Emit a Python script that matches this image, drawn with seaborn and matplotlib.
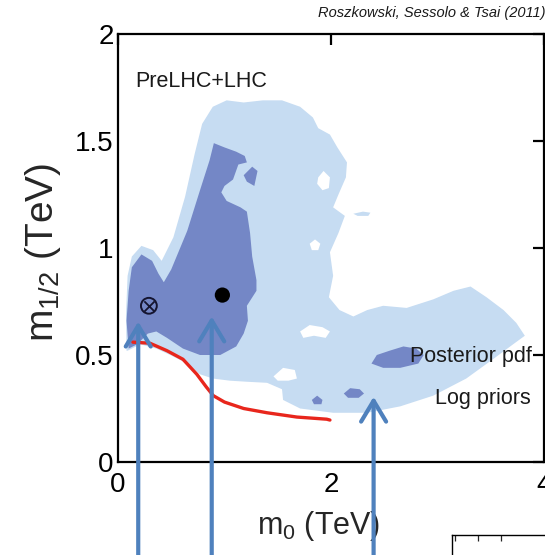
import matplotlib
matplotlib.use("Agg")
import matplotlib.pyplot as plt
import seaborn as sns
import pandas as pd

# ---- posterior credible regions in the (m0, m1/2) plane, TeV ----
# 95% region outline
region95_m0 = [0.08, 0.075, 0.09, 0.13, 0.22, 0.33, 0.41, 0.52, 0.63, 0.72, 0.79, 0.89,
               1.02, 1.18, 1.36, 1.54, 1.71, 1.83, 1.88, 1.99, 2.06, 2.15, 2.14, 2.07,
               2.02, 2.13, 2.07, 1.99, 2.02, 1.98, 2.08, 2.21, 2.34, 2.49, 2.71, 2.96,
               3.15, 3.31, 3.46, 3.62, 3.74, 3.82, 3.71, 3.52, 3.27, 2.96, 2.65, 2.34,
               2.02, 1.71, 1.55, 1.54, 1.40, 1.21, 1.05, 0.89, 0.77, 0.65, 0.49, 0.36,
               0.21, 0.09]
region95_m12 = [0.52, 0.69, 0.87, 0.96, 1.01, 0.99, 0.94, 1.05, 1.24, 1.44, 1.58, 1.66,
                1.69, 1.68, 1.69, 1.69, 1.66, 1.61, 1.56, 1.53, 1.47, 1.40, 1.33, 1.25,
                1.19, 1.15, 1.07, 0.98, 0.87, 0.77, 0.71, 0.68, 0.71, 0.73, 0.72, 0.76,
                0.80, 0.82, 0.77, 0.71, 0.65, 0.59, 0.55, 0.48, 0.39, 0.31, 0.26, 0.23,
                0.23, 0.25, 0.29, 0.34, 0.37, 0.375, 0.38, 0.39, 0.41, 0.46, 0.50, 0.53,
                0.55, 0.52]

# gaps inside the 95% region
gap1_m0 = [1.88, 1.93, 1.99, 1.98, 1.92, 1.87]
gap1_m12 = [1.33, 1.36, 1.33, 1.28, 1.27, 1.30]
gap2_m0 = [1.80, 1.85, 1.90, 1.88, 1.82]
gap2_m12 = [1.02, 1.04, 1.02, 0.99, 0.99]
gap3_m0 = [1.71, 1.80, 1.92, 1.99, 1.95, 1.84, 1.74]
gap3_m12 = [0.61, 0.64, 0.63, 0.61, 0.58, 0.59, 0.58]
gap4_m0 = [1.46, 1.55, 1.66, 1.68, 1.60, 1.50]
gap4_m12 = [0.40, 0.44, 0.43, 0.39, 0.38, 0.38]

# stray 95% patch
patch_m0 = [2.21, 2.30, 2.37, 2.35, 2.25]
patch_m12 = [1.16, 1.17, 1.165, 1.15, 1.15]

# 68% region outline (main)
region68_m0 = [0.10, 0.13, 0.22, 0.32, 0.38, 0.43, 0.50, 0.65, 0.77, 0.86, 0.90, 1.00,
               1.11, 1.19, 1.21, 1.13, 1.08, 1.00, 0.97, 1.02, 1.15, 1.21, 1.24, 1.26,
               1.30, 1.30, 1.21, 1.22, 1.18, 1.11, 0.96, 0.77, 0.61, 0.46, 0.36, 0.28,
               0.18, 0.10, 0.08]
region68_m12 = [0.80, 0.91, 0.97, 0.94, 0.88, 0.84, 0.90, 1.08, 1.27, 1.41, 1.49, 1.47,
                1.45, 1.43, 1.40, 1.39, 1.32, 1.29, 1.26, 1.22, 1.19, 1.17, 1.07, 0.96,
                0.85, 0.80, 0.73, 0.66, 0.60, 0.54, 0.50, 0.50, 0.53, 0.58, 0.61, 0.60,
                0.55, 0.53, 0.66]
# 68% islands
isle1_m0 = [1.18, 1.26, 1.31, 1.28, 1.21]
isle1_m12 = [1.34, 1.38, 1.36, 1.29, 1.31]
isle2_m0 = [2.38, 2.43, 2.55, 2.68, 2.80, 2.87, 2.82, 2.65, 2.49]
isle2_m12 = [0.46, 0.50, 0.52, 0.54, 0.53, 0.50, 0.46, 0.44, 0.44]
isle3_m0 = [2.12, 2.18, 2.27, 2.31, 2.26, 2.16]
isle3_m12 = [0.32, 0.345, 0.34, 0.32, 0.30, 0.30]
isle4_m0 = [1.82, 1.87, 1.92, 1.91, 1.84]
isle4_m12 = [0.29, 0.31, 0.29, 0.27, 0.27]

# excluded-region boundary (red curve)
limit_m0 = [0.14, 0.30, 0.46, 0.61, 0.74, 0.83, 0.895, 1.00, 1.18, 1.40, 1.68, 1.96, 1.99]
limit_m12 = [0.56, 0.555, 0.52, 0.48, 0.41, 0.35, 0.31, 0.28, 0.25, 0.23, 0.21, 0.20, 0.196]

# best fit and posterior mean
best_fit = (0.29, 0.73)
post_mean = (0.98, 0.78)

# arrow tips
arrow_m0 = [0.19, 0.88, 2.40]
arrow_m12 = [0.656, 0.68, 0.305]

x_ticks = [0, 2, 4]
y_ticks = [0, 0.5, 1, 1.5, 2]
y_ticklabels = ["0", "0.5", "1", "1.5", "2"]

LIGHT = "#c6dcf2"
DARK = "#7487c6"
ARROW = "#4f81bd"
RED = "#e8261c"

sns.set_theme(style="white")
plt.rcParams["font.family"] = ["Liberation Sans", "DejaVu Sans"]
plt.rcParams["mathtext.fontset"] = "custom"
plt.rcParams["mathtext.rm"] = "Liberation Sans"
plt.rcParams["mathtext.it"] = "Liberation Sans:italic"

fig = plt.figure(figsize=(5.45, 5.55), dpi=100)
ax = fig.add_axes([118 / 545, 1 - 462 / 555, 426 / 545, 428 / 555])

ax.fill(region95_m0, region95_m12, color=LIGHT, lw=0, zorder=1)
ax.fill(patch_m0, patch_m12, color=LIGHT, lw=0, zorder=1)
for gx, gy in [(gap1_m0, gap1_m12), (gap2_m0, gap2_m12), (gap3_m0, gap3_m12), (gap4_m0, gap4_m12)]:
    ax.fill(gx, gy, color="white", lw=0, zorder=1.5)
ax.fill(region68_m0, region68_m12, color=DARK, lw=0, zorder=2)
for ix, iy in [(isle1_m0, isle1_m12), (isle2_m0, isle2_m12), (isle3_m0, isle3_m12), (isle4_m0, isle4_m12)]:
    ax.fill(ix, iy, color=DARK, lw=0, zorder=2)

limit = pd.DataFrame({"m0": limit_m0, "m12": limit_m12})
sns.lineplot(data=limit, x="m0", y="m12", sort=False, color=RED, lw=2.4, ax=ax, zorder=3)

sns.scatterplot(x=[post_mean[0]], y=[post_mean[1]], s=120, color="black", ax=ax, zorder=4,
                edgecolor="none")
ax.scatter([best_fit[0]], [best_fit[1]], s=130, facecolor="none", edgecolor="#151530",
           linewidth=1.4, zorder=4)
ax.scatter([best_fit[0]], [best_fit[1]], s=55, marker="x", color="#151530",
           linewidth=1.3, zorder=4)

ax.text(0.16, 1.78, "PreLHC+LHC", fontsize=15.5, va="center", ha="left", color="#1a1a1a")
ax.text(2.74, 0.495, "Posterior pdf", fontsize=15.5, va="center", ha="left", color="#1a1a1a",
        zorder=5)
ax.text(2.98, 0.295, "Log priors", fontsize=15.5, va="center", ha="left", color="#1a1a1a",
        zorder=5)

for tx, ty in zip(arrow_m0, arrow_m12):
    ax.annotate("", xy=(tx, ty), xytext=(tx, -0.47), annotation_clip=False,
                arrowprops=dict(arrowstyle="->,head_length=1.5,head_width=0.9",
                                lw=3.0, color=ARROW, shrinkA=0, shrinkB=0,
                                mutation_scale=10, clip_on=False),
                zorder=6)

ax.set_xlim(0, 4)
ax.set_ylim(0, 2)
ax.set_xticks(x_ticks)
ax.set_xticklabels([str(v) for v in x_ticks])
ax.set_yticks(y_ticks)
ax.set_yticklabels(y_ticklabels)
ax.tick_params(axis="both", direction="in", length=8, width=1.6, labelsize=20,
               colors="black", top=True, right=True, labeltop=False, labelright=False)
ax.tick_params(axis="x", pad=7)
ax.tick_params(axis="y", pad=3)
for sp in ax.spines.values():
    sp.set_visible(True)
    sp.set_linewidth(1.6)
    sp.set_color("black")

ax.set_xlabel(r"$\mathrm{m_0}$ (TeV)", fontsize=22)
ax.set_ylabel(r"$\mathrm{m_{1/2}}$ (TeV)", fontsize=28)
ax.xaxis.set_label_coords(0.47, -0.11)
ax.yaxis.set_label_coords(-0.13, 0.49)

fig.text(318 / 545, 1 - 13 / 555, "Roszkowski, Sessolo & Tsai (2011)", fontsize=10.5,
         style="italic", ha="left", va="center", color="#1a1a1a")

# corner of the neighbouring panel
ax2 = fig.add_axes([452 / 545, -0.1, 0.3, 0.1 + 20 / 555])
ax2.set_xlim(0, 10)
ax2.set_ylim(0, 10)
ax2.set_xticks([0.2, 1.6, 3.0])
ax2.set_yticks([8.0])
ax2.tick_params(direction="in", length=4, width=0.9, top=True, bottom=False,
                labelbottom=False, labelleft=False)
for name, sp in ax2.spines.items():
    sp.set_visible(name in ("top", "left"))
    sp.set_linewidth(1.0)
    sp.set_color("black")
ax2.set_facecolor("none")

fig.savefig("out.png", dpi=100)
